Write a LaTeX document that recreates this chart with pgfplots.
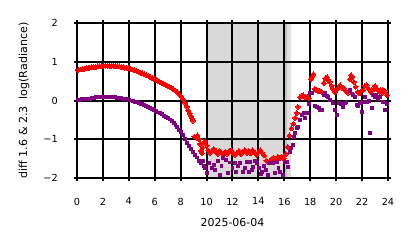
\documentclass[border=0pt]{standalone}
\usepackage{fontspec}
\setmainfont{DejaVu Sans}
\usepackage{pgfplots}
\pgfplotsset{compat=1.18}
\definecolor{mpurple}{HTML}{800080}
\definecolor{mred}{HTML}{FF0000}
\begin{document}
\fontsize{8pt}{9.6pt}\selectfont
\begin{tikzpicture}
\begin{axis}[
  at={(0,0)}, anchor=south west,
  scale only axis, width=233.25pt, height=116.25pt,
  xmin=0, xmax=24, ymin=-2, ymax=2,
  xtick={0,2,...,24}, ytick={-2,-1,0,1,2},
  yticklabels={−2,−1,0,1,2},
  /pgf/number format/assume math mode=true,
  grid=major, grid style={black, line width=1.5pt},
  axis line style={black, line width=1.5pt},
  tick style={black, line width=1.5pt},
  tick align=outside, major tick length=2.5pt,
  axis on top,
  xticklabel style={font=\fontsize{7.3pt}{8.8pt}\selectfont, yshift=-9.5pt},
  yticklabel style={font=\fontsize{7.3pt}{8.8pt}\selectfont, xshift=-9pt},
  xlabel={2025-06-04}, ylabel={diff 1.6 \& 2.3\ \ log(Radiance)},
  xlabel style={at={(axis description cs:0.5,-0.29)}, anchor=center, font=\fontsize{8.2pt}{9.8pt}\selectfont},
  ylabel style={at={(axis description cs:-0.17,0.5)}, anchor=center, font=\fontsize{8.3pt}{10pt}\selectfont},
  clip=true,
]
\addplot[only marks, mark=square*, mark size=1.3pt, mark options={rotate=45, fill=mred, draw=mred, line width=0pt}, color=mred] coordinates {
(0.1,0.79)(0.25,0.80)(0.4,0.81)(0.55,0.82)(0.7,0.83)(0.85,0.84)(1.0,0.85)(1.15,0.86)(1.3,0.86)(1.45,0.87)
(1.6,0.88)(1.75,0.88)(1.9,0.89)(2.05,0.90)(2.2,0.89)(2.35,0.90)(2.5,0.90)(2.65,0.89)(2.8,0.90)(2.95,0.89)
(3.1,0.88)(3.25,0.88)(3.4,0.87)(3.55,0.86)(3.7,0.85)(3.85,0.84)(4.0,0.83)(4.15,0.81)(4.3,0.80)(4.45,0.78)
(4.6,0.76)(4.75,0.74)(4.9,0.72)(5.05,0.70)(5.2,0.68)(5.35,0.66)(5.5,0.64)(5.65,0.61)(5.8,0.58)(5.95,0.56)
(6.1,0.53)(6.25,0.51)(6.4,0.48)(6.55,0.46)(6.7,0.43)(6.85,0.41)(7.0,0.38)(7.15,0.35)(7.3,0.32)(7.45,0.29)
(7.6,0.25)(7.75,0.21)(7.9,0.16)(8.05,0.10)(8.2,0.03)(8.35,-0.06)(8.5,-0.16)(8.6,-0.26)(8.7,-0.33)(8.8,-0.40)
(8.9,-0.47)(8.95,-0.52)(9.05,-0.93)(9.2,-0.96)(9.3,-0.90)(9.4,-1.0)(9.5,-1.12)(9.55,-1.3)(9.65,-1.36)(9.7,-1.22)
(9.8,-1.08)(9.9,-1.05)(10.0,-1.15)
(10.1,-1.28)(10.25,-1.35)(10.4,-1.3)(10.55,-1.25)(10.7,-1.33)(10.85,-1.38)(11.0,-1.3)(11.15,-1.35)(11.3,-1.4)
(11.45,-1.33)(11.6,-1.38)(11.75,-1.3)(11.9,-1.28)(12.05,-1.35)(12.2,-1.4)(12.35,-1.35)(12.5,-1.3)(12.65,-1.38)
(12.8,-1.33)(12.95,-1.28)(13.1,-1.35)(13.25,-1.3)(13.4,-1.36)(13.55,-1.28)(13.7,-1.35)(13.85,-1.4)(14.0,-1.33)
(14.15,-1.28)(14.3,-1.35)(14.45,-1.42)(14.6,-1.55)(14.75,-1.6)(14.9,-1.55)(15.05,-1.5)(15.2,-1.48)(15.35,-1.5)
(15.5,-1.45)(15.65,-1.48)(15.8,-1.45)(15.95,-1.5)
(16.1,-1.38)(16.25,-1.2)(16.4,-0.9)(16.55,-0.72)(16.7,-0.6)(16.85,-0.45)(16.95,-0.32)(17.05,-0.16)(17.2,0.08)
(17.35,0.12)(17.45,0.14)(17.6,0.09)(17.75,0.1)(17.9,0.06)(18.05,0.55)(18.15,0.62)(18.25,0.68)(18.35,0.3)
(18.45,0.27)(18.6,0.25)(18.75,0.24)(18.9,0.22)(19.05,0.45)(19.15,0.57)(19.3,0.6)(19.4,0.53)(19.5,0.48)
(19.65,0.38)(19.75,0.3)(19.9,0.22)(20.1,0.3)(20.3,0.4)(20.45,0.33)(20.6,0.32)(20.75,0.25)(20.9,0.2)
(21.05,0.55)(21.15,0.65)(21.25,0.62)(21.35,0.48)(21.5,0.35)(21.65,0.22)(21.8,0.18)(21.95,0.25)(22.1,0.27)
(22.2,0.38)(22.35,0.4)(22.5,0.3)(22.65,0.22)(22.75,0.27)(22.9,0.3)(23.0,0.38)(23.15,0.3)(23.3,0.25)
(23.4,0.27)(23.5,0.19)(23.6,0.28)(23.75,0.25)(23.9,0.14)
};
\addplot[only marks, mark=square*, mark size=1.1pt, mark options={fill=mpurple, draw=mpurple, line width=0pt}, color=mpurple] coordinates {
(0.1,0.02)(0.25,0.02)(0.4,0.03)(0.55,0.03)(0.7,0.04)(0.85,0.05)(1.0,0.05)(1.15,0.06)(1.3,0.07)(1.45,0.08)
(1.6,0.08)(1.75,0.09)(1.9,0.10)(2.05,0.10)(2.2,0.10)(2.35,0.09)(2.5,0.09)(2.65,0.08)(2.8,0.08)(2.95,0.08)
(3.1,0.07)(3.25,0.07)(3.4,0.06)(3.55,0.05)(3.7,0.04)(3.85,0.03)(4.0,0.02)(4.15,0.0)(4.3,-0.01)(4.45,-0.03)
(4.6,-0.05)(4.75,-0.06)(4.9,-0.08)(5.05,-0.1)(5.2,-0.12)(5.35,-0.14)(5.5,-0.16)(5.65,-0.19)(5.8,-0.22)(5.95,-0.25)
(6.1,-0.28)(6.25,-0.31)(6.4,-0.33)(6.55,-0.36)(6.7,-0.39)(6.85,-0.42)(7.0,-0.45)(7.15,-0.49)(7.3,-0.53)(7.45,-0.58)
(7.6,-0.63)(7.75,-0.69)(7.9,-0.76)(8.05,-0.82)(8.2,-0.9)(8.35,-1.0)(8.5,-1.1)(8.65,-1.18)(8.8,-1.24)(8.95,-1.33)
(9.1,-1.4)(9.25,-1.47)(9.4,-1.55)(9.55,-1.62)(9.7,-1.55)(9.8,-1.68)(9.9,-1.75)
(10.0,-1.87)(10.2,-1.62)(10.4,-1.75)(10.55,-1.67)(10.65,-1.8)(10.85,-1.55)(11.0,-1.92)(11.15,-1.7)(11.3,-1.49)
(11.5,-1.53)(11.65,-1.87)(11.8,-1.6)(12.0,-1.75)(12.2,-1.62)(12.3,-1.84)(12.45,-1.7)(12.6,-1.62)(12.8,-1.84)
(12.95,-1.75)(13.1,-1.59)(13.25,-1.84)(13.35,-1.59)(13.5,-1.8)(13.6,-1.71)(13.75,-1.55)(13.9,-1.62)(14.05,-1.75)
(14.2,-1.9)(14.3,-1.84)(14.45,-1.7)(14.6,-1.8)(14.75,-1.92)(14.9,-1.62)(15.1,-1.62)(15.25,-1.88)(15.4,-1.59)
(15.55,-1.75)(15.7,-1.84)(15.9,-1.92)(16.05,-1.59)(16.2,-1.59)(16.3,-1.71)(16.45,-1.33)(16.55,-1.23)(16.65,-1.15)
(16.75,-0.93)(16.85,-0.85)(16.95,-0.7)(17.05,-0.68)(17.2,-0.5)(17.35,-0.37)(17.5,-0.33)(17.6,-0.45)(17.75,-0.33)
(17.9,-0.1)(18.0,0.19)(18.15,0.2)(18.35,-0.15)(18.5,-0.17)(18.65,-0.2)(18.75,-0.25)(18.9,-0.25)(19.05,0.15)
(19.15,0.19)(19.3,0.12)(19.4,0.1)(19.55,0.02)(19.75,-0.07)(19.9,-0.25)(20.05,-0.37)(20.2,-0.07)(20.35,-0.1)
(20.5,-0.17)(20.65,-0.07)(20.8,-0.05)(21.05,0.27)(21.2,0.18)(21.3,0.14)(21.45,0.1)(21.6,-0.12)(21.7,-0.14)
(21.85,-0.07)(22.0,-0.3)(22.1,-0.05)(22.2,0.1)(22.35,-0.04)(22.5,-0.02)(22.6,-0.85)(22.75,-0.2)(22.85,0.14)
(23.0,0.1)(23.1,0.14)(23.25,0.05)(23.4,0.08)(23.6,-0.04)(23.8,-0.25)(23.95,-0.1)
};
\fill[gray, opacity=0.3] (axis cs:10.0,-2) rectangle (axis cs:16.2,2);
\fill[gray, opacity=0.25] (axis cs:16.05,-2) rectangle (axis cs:16.55,2);
\end{axis}
\pgfresetboundingbox
\path[use as bounding box] (-57.75pt,-52.5pt) rectangle (252.75pt,133.5pt);
\end{tikzpicture}
\end{document}
